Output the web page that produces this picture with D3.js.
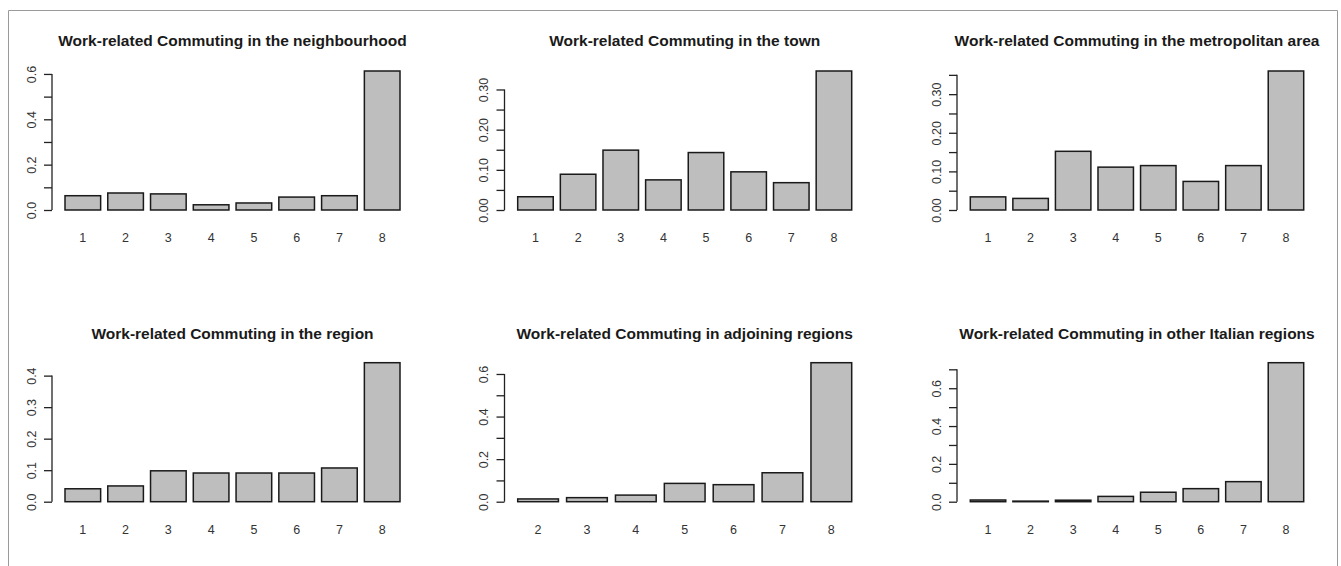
<!DOCTYPE html>
<html>
<head>
<meta charset="utf-8">
<script src="https://cdn.jsdelivr.net/npm/d3@7"></script>
<style>
  html, body { margin: 0; padding: 0; background: #fff; }
  svg { display: block; }
  text { font-family: "Liberation Sans", Arial, sans-serif; }
</style>
</head>
<body>
<svg id="chart" width="1341" height="566"></svg>
<script>
// ---------- data ----------
const titles = [
  "Work-related Commuting in the neighbourhood",
  "Work-related Commuting in the town",
  "Work-related Commuting in the metropolitan area",
  "Work-related Commuting in the region",
  "Work-related Commuting in adjoining regions",
  "Work-related Commuting in other Italian regions"
];
const categoriesFull = ["1", "2", "3", "4", "5", "6", "7", "8"];
const categoriesAdjoining = ["2", "3", "4", "5", "6", "7", "8"];

const valuesNeighbourhood = [0.063, 0.075, 0.071, 0.023, 0.031, 0.057, 0.063, 0.613];
const valuesTown          = [0.033, 0.089, 0.149, 0.075, 0.143, 0.095, 0.068, 0.346];
const valuesMetropolitan  = [0.034, 0.030, 0.152, 0.111, 0.115, 0.074, 0.115, 0.360];
const valuesRegion        = [0.041, 0.050, 0.098, 0.091, 0.091, 0.091, 0.107, 0.441];
const valuesAdjoining     = [0.013, 0.019, 0.031, 0.086, 0.080, 0.136, 0.653];
const valuesOtherItalian  = [0.009, 0.003, 0.008, 0.028, 0.050, 0.069, 0.106, 0.735];

const ticksNeighbourhood = [0, 0.1, 0.2, 0.3, 0.4, 0.5, 0.6];
const labelsNeighbourhood = ["0.0", "", "0.2", "", "0.4", "", "0.6"];
const ticksTown = [0, 0.05, 0.10, 0.15, 0.20, 0.25, 0.30];
const labelsTown = ["0.00", "", "0.10", "", "0.20", "", "0.30"];
const ticksMetropolitan = [0, 0.05, 0.10, 0.15, 0.20, 0.25, 0.30, 0.35];
const labelsMetropolitan = ["0.00", "", "0.10", "", "0.20", "", "0.30", ""];
const ticksRegion = [0, 0.1, 0.2, 0.3, 0.4];
const labelsRegion = ["0.0", "0.1", "0.2", "0.3", "0.4"];
const ticksAdjoining = [0, 0.1, 0.2, 0.3, 0.4, 0.5, 0.6];
const labelsAdjoining = ["0.0", "", "0.2", "", "0.4", "", "0.6"];
const ticksOtherItalian = [0, 0.1, 0.2, 0.3, 0.4, 0.5, 0.6, 0.7];
const labelsOtherItalian = ["0.0", "", "0.2", "", "0.4", "", "0.6", ""];

const panels = [
  { title: titles[0], cats: categoriesFull, vals: valuesNeighbourhood, ticks: ticksNeighbourhood, labels: labelsNeighbourhood },
  { title: titles[1], cats: categoriesFull, vals: valuesTown, ticks: ticksTown, labels: labelsTown },
  { title: titles[2], cats: categoriesFull, vals: valuesMetropolitan, ticks: ticksMetropolitan, labels: labelsMetropolitan },
  { title: titles[3], cats: categoriesFull, vals: valuesRegion, ticks: ticksRegion, labels: labelsRegion },
  { title: titles[4], cats: categoriesAdjoining, vals: valuesAdjoining, ticks: ticksAdjoining, labels: labelsAdjoining },
  { title: titles[5], cats: categoriesFull, vals: valuesOtherItalian, ticks: ticksOtherItalian, labels: labelsOtherItalian }
];

// ---------- layout ----------
const colLayout = [
  { axisX: 52,    barL: 65,    barR: 400 },
  { axisX: 504.5, barL: 517.7, barR: 851.7 },
  { axisX: 957,   barL: 970.3, barR: 1303.7 }
];
const rowLayout = [
  { zeroY: 210,   maxY: 71,    titleY: 46,  labelY: 241.5 },
  { zeroY: 501.7, maxY: 362.7, titleY: 339, labelY: 533.5 }
];

const svg = d3.select("#chart");

// outer frame
svg.append("path")
  .attr("d", "M8.5,566 V10.5 H1337.5 V566")
  .attr("fill", "none")
  .attr("stroke", "#9a9a9a")
  .attr("stroke-width", 1);

panels.forEach((p, i) => {
  const c = colLayout[i % 3];
  const r = rowLayout[Math.floor(i / 3)];
  const g = svg.append("g");

  const x = d3.scaleBand()
    .domain(p.cats)
    .range([c.barL, c.barR])
    .paddingInner(1 / 6)
    .paddingOuter(0);

  const y = d3.scaleLinear()
    .domain([0, d3.max(p.vals)])
    .range([r.zeroY, r.maxY]);

  // bars
  g.selectAll("rect.bar")
    .data(p.vals)
    .join("rect")
    .attr("class", "bar")
    .attr("x", (d, j) => x(p.cats[j]))
    .attr("y", d => y(d))
    .attr("width", x.bandwidth())
    .attr("height", d => y(0) - y(d))
    .attr("fill", "#bebebe")
    .attr("stroke", "#1a1a1a")
    .attr("stroke-width", 1.5);

  // y axis
  const yAxis = d3.axisLeft(y)
    .tickValues(p.ticks)
    .tickSize(8)
    .tickSizeOuter(0)
    .tickFormat((d, j) => p.labels[j]);
  const ag = g.append("g")
    .attr("transform", `translate(${c.axisX},0)`)
    .call(yAxis);
  ag.select(".domain").remove();
  ag.selectAll(".tick line").attr("stroke", "#222").attr("stroke-width", 1.3);
  ag.selectAll(".tick text")
    .attr("x", 0)
    .attr("dy", null)
    .attr("y", -16.5)
    .attr("text-anchor", "middle")
    .attr("transform", "rotate(-90)")
    .attr("font-size", 12.5)
    .attr("fill", "#333")
    .attr("font-family", "'Liberation Sans', Arial, sans-serif");
  ag.append("line")
    .attr("x1", 0).attr("x2", 0)
    .attr("y1", y(0)).attr("y2", y(p.ticks[p.ticks.length - 1]))
    .attr("stroke", "#222").attr("stroke-width", 1.3);

  // category labels
  g.selectAll("text.cat")
    .data(p.cats)
    .join("text")
    .attr("class", "cat")
    .attr("x", d => x(d) + x.bandwidth() / 2)
    .attr("y", r.labelY)
    .attr("text-anchor", "middle")
    .attr("font-size", 12.5)
    .attr("fill", "#333")
    .text(d => d);

  // title
  g.append("text")
    .attr("x", (c.barL + c.barR) / 2)
    .attr("y", r.titleY)
    .attr("text-anchor", "middle")
    .attr("font-size", 15.5)
    .attr("font-weight", "bold")
    .attr("fill", "#1a1a1a")
    .text(p.title);
});
</script>
</body>
</html>
